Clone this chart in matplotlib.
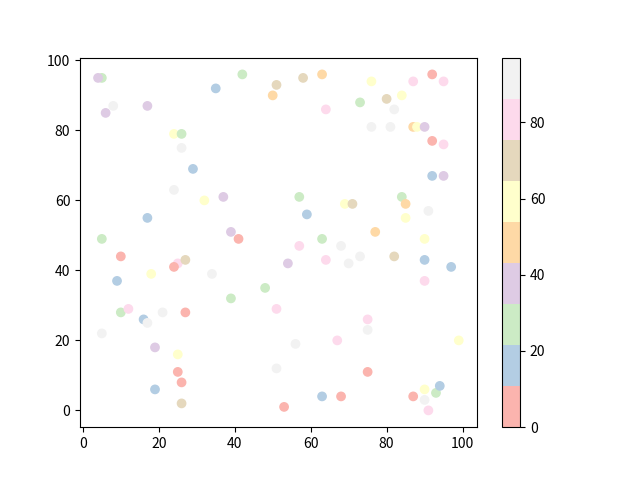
import matplotlib
matplotlib.use("Agg")
import matplotlib.pyplot as plt

plt.rcParams["font.family"] = ["Noto Sans CJK SC", "DejaVu Sans"]

# point positions and colour values
x = [5, 4, 8, 6, 17, 35, 24, 26, 26, 29,
     42, 51, 50, 58, 63, 64,
     76, 87, 92, 95, 73, 80, 84, 82, 76, 81, 87, 88, 90, 92, 95, 92, 95,
     24, 32, 17, 5, 10, 25, 27, 24, 18, 9, 34,
     37, 57, 59, 39, 41, 57, 63, 68, 64, 54, 48, 39,
     69, 71, 84, 85, 91, 85, 77, 90, 73, 70, 82, 90, 97, 90,
     10, 12, 16, 17, 21, 27, 5, 19, 25, 25, 26, 19, 26,
     51, 56, 67, 51, 63, 68, 53,
     75, 75, 75, 99, 87, 90, 90, 91, 93, 94]
y = [95, 95, 87, 85, 87, 92, 79, 79, 75, 69,
     96, 93, 90, 95, 96, 86,
     94, 94, 96, 94, 88, 89, 90, 86, 81, 81, 81, 81, 81, 77, 76, 67, 67,
     63, 60, 55, 49, 44, 42, 43, 41, 39, 37, 39,
     61, 61, 56, 51, 49, 47, 49, 47, 43, 42, 35, 32,
     59, 59, 61, 59, 57, 55, 51, 49, 44, 42, 44, 43, 41, 37,
     28, 29, 26, 25, 28, 28, 22, 18, 16, 11, 8, 6, 2,
     29, 19, 20, 12, 4, 4, 1,
     26, 23, 11, 20, 4, 6, 3, 0, 5, 7]
c = [27, 38, 92, 38, 38, 16, 59, 27, 92, 16,
     27, 70, 48, 70, 48, 81,
     59, 81, 5, 81, 27, 70, 59, 92, 92, 92, 48, 59, 38, 5, 81, 16, 38,
     92, 59, 16, 27, 5, 81, 70, 5, 59, 16, 92,
     38, 27, 16, 38, 5, 81, 27, 92, 81, 38, 27, 27,
     59, 70, 27, 48, 92, 59, 48, 59, 92, 92, 70, 16, 16, 81,
     27, 81, 16, 92, 92, 0, 92, 38, 59, 5, 5, 16, 70,
     81, 92, 81, 92, 16, 5, 5,
     81, 97, 5, 59, 5, 59, 92, 81, 27, 16]

fig, ax = plt.subplots(figsize=(6.4, 4.8), dpi=100)
sc = ax.scatter(x, y, c=c, cmap="Pastel1")
fig.colorbar(sc, ax=ax)
fig.savefig("out.png", dpi=100)
